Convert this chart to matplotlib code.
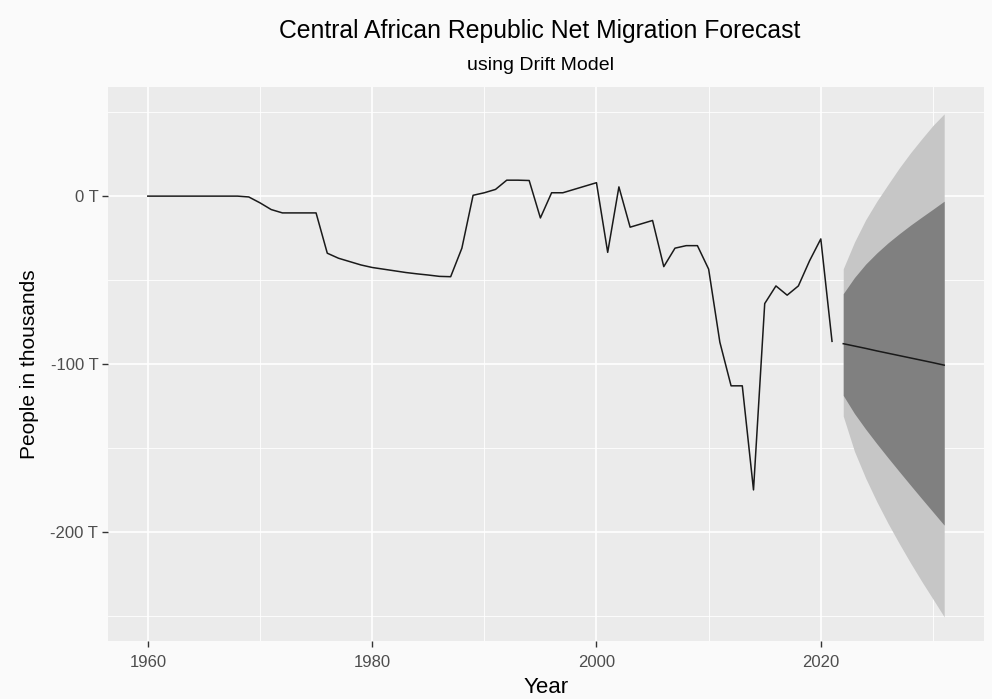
import matplotlib
matplotlib.use("Agg")
import matplotlib.pyplot as plt
from matplotlib.ticker import FixedLocator

plt.rcParams['font.family'] = ['Liberation Sans', 'DejaVu Sans']

# observed net migration, thousands
years = list(range(1960, 2022))
migration = [0, 0, 0, 0, 0, 0, 0, 0, 0, -0.5,
             -4, -8, -10, -10, -10, -10, -34, -37, -39, -41,
             -42.5, -43.5, -44.5, -45.5, -46.3, -47, -47.8, -48, -31, 0.5,
             2, 4, 9.5, 9.5, 9.3, -13, 2, 2, 4, 6,
             8, -33.5, 5.5, -18.5, -16.5, -14.5, -42, -31, -29.5, -29.5,
             -43.5, -87, -113, -113, -175, -64, -53.5, -59, -53.5, -38.5,
             -25.5, -86.5]

# drift forecast
fc_years = list(range(2022, 2032))
fc_mean = [-87.9, -89.3, -90.7, -92.2, -93.6, -95.0, -96.4, -97.8, -99.2, -100.7]
lo80 = [-118.7, -129.5, -138.8, -147.5, -155.9, -164.1, -172.2, -180.2, -188.1, -196.0]
hi80 = [-58.1, -48.5, -40.5, -33.8, -27.8, -22.4, -17.3, -12.5, -7.8, -3.0]
lo95 = [-131, -152, -168, -182.1, -195, -207, -218.5, -229.5, -240, -250.6]
hi95 = [-43.3, -27.4, -14.1, -3.0, 7.0, 16.8, 25.8, 34.1, 42.1, 49.0]

x_major = [1960, 1980, 2000, 2020]
x_minor = [1970, 1990, 2010, 2030]
y_major = [0, -100, -200]
y_minor = [50, -50, -150, -250]

fig = plt.figure(figsize=(9.92, 6.99), dpi=100, facecolor='#fafafa')
ax = fig.add_axes([108 / 992, 1 - 641 / 699, (984 - 108) / 992, (641 - 87) / 699])
ax.set_facecolor('#ebebeb')

ax.fill_between(fc_years, lo95, hi95, color='#c6c6c6', linewidth=0, zorder=2)
ax.fill_between(fc_years, lo80, hi80, color='#808080', linewidth=0, zorder=3)
ax.plot(years, migration, color='#1a1a1a', linewidth=1.1, zorder=4)
ax.plot(fc_years, fc_mean, color='#1a1a1a', linewidth=1.1, zorder=4)

ax.set_xlim(1956.45, 2034.55)
ax.set_ylim(-265, 65)
ax.xaxis.set_major_locator(FixedLocator(x_major))
ax.xaxis.set_minor_locator(FixedLocator(x_minor))
ax.yaxis.set_major_locator(FixedLocator(y_major))
ax.yaxis.set_minor_locator(FixedLocator(y_minor))
ax.set_yticklabels([f"{v} T" for v in y_major])

ax.grid(which='major', color='white', linewidth=1.2, zorder=1)
ax.grid(which='minor', color='white', linewidth=0.6, zorder=1)
ax.set_axisbelow(True)
for s in ax.spines.values():
    s.set_visible(False)

ax.tick_params(which='major', length=4, width=1, color='#333333',
               labelsize=12, labelcolor='#4d4d4d', pad=3)
ax.tick_params(axis='x', which='major', pad=6)
ax.tick_params(which='minor', length=0)

ax.set_xlabel('Year', fontsize=16, color='black', labelpad=5)
ax.set_ylabel('People in thousands', fontsize=15, color='black', labelpad=8)

fig.text(0.5445, 1 - 31 / 699, 'Central African Republic Net Migration Forecast',
         ha='center', va='center', fontsize=17.8, color='black')
fig.text(0.5445, 1 - 66 / 699, 'using Drift Model',
         ha='center', va='center', fontsize=14, color='black')

fig.savefig('out.png', dpi=100, facecolor=fig.get_facecolor())
